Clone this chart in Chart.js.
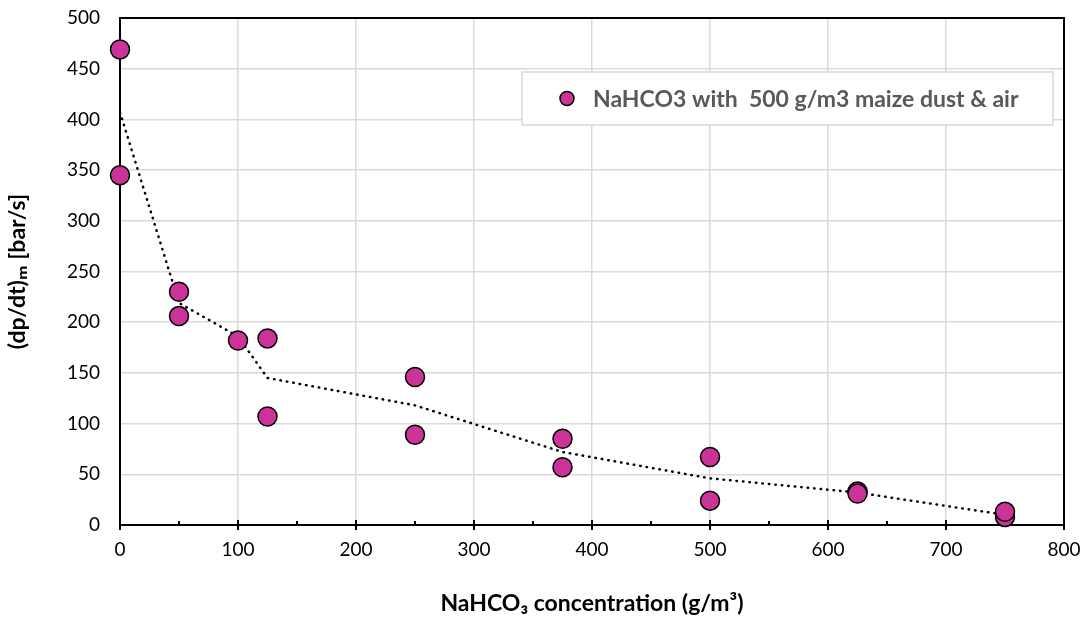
<!DOCTYPE html>
<html>
<head>
<meta charset="utf-8">
<script src="https://cdn.jsdelivr.net/npm/chart.js@4"></script>
<style>
  html, body { margin: 0; padding: 0; background: #fff; }
  #wrap { width: 1088px; height: 621px; }
</style>
</head>
<body>
<div id="wrap"><canvas id="chart" width="1088" height="621"></canvas></div>
<script>
// measured points
const concentration = [0, 0, 50, 50, 100, 125, 125, 250, 250, 375, 375, 500, 500, 625, 625, 750, 750];
const rate = [469, 345, 230, 206, 182, 184, 107, 146, 89, 85, 57, 67, 24, 33, 31, 8, 13];

// dotted trend line
const trendX = [0, 50, 100, 125, 250, 375, 500, 625, 750];
const trendY = [407, 219, 186, 145, 118, 72, 46, 32, 10];

const seriesLabel = 'NaHCO3 with  500 g/m3 maize dust & air';
const pointColor = 'rgb(204, 51, 153)';
const fontFamily = 'Lato, "Open Sans", "DejaVu Sans", sans-serif';

// frame around the plot + tick marks on the x axis
const framePlugin = {
  id: 'frame',
  beforeDatasetsDraw(chart) {
    const { ctx, chartArea: a, scales } = chart;
    ctx.save();
    ctx.strokeStyle = '#000';
    ctx.lineWidth = 2;
    ctx.strokeRect(a.left, a.top, a.right - a.left, a.bottom - a.top);
    const x = scales.x;
    for (let v = 0; v <= 800; v += 50) {
      const px = x.getPixelForValue(v);
      ctx.beginPath();
      if (v % 100 === 0) {
        ctx.moveTo(px, a.bottom - 5);
        ctx.lineTo(px, a.bottom + 5);
      } else {
        ctx.moveTo(px, a.bottom - 4);
        ctx.lineTo(px, a.bottom);
      }
      ctx.stroke();
    }
    ctx.restore();
  }
};

// legend box drawn inside the plot
const legendPlugin = {
  id: 'insideLegend',
  afterDraw(chart) {
    const { ctx } = chart;
    const ds = chart.data.datasets[1];
    const left = 522, top = 72, w = 531, h = 53;
    ctx.save();
    ctx.fillStyle = '#fff';
    ctx.fillRect(left, top, w, h);
    ctx.strokeStyle = '#d9d9d9';
    ctx.lineWidth = 1.5;
    ctx.strokeRect(left, top, w, h);
    ctx.beginPath();
    ctx.arc(left + 45, top + h / 2, 7, 0, Math.PI * 2);
    ctx.fillStyle = ds.backgroundColor;
    ctx.fill();
    ctx.strokeStyle = '#000';
    ctx.lineWidth = 1.5;
    ctx.stroke();
    ctx.fillStyle = '#595959';
    ctx.font = 'bold 23px ' + fontFamily;
    ctx.textBaseline = 'middle';
    ctx.fillText(ds.label, left + 71, top + h / 2 + 1);
    ctx.restore();
  }
};

const ctx = document.getElementById('chart').getContext('2d');
const chart = new Chart(ctx, {
  type: 'scatter',
  data: {
    datasets: [
      {
        label: 'trend',
        type: 'line',
        data: trendX.map((x, i) => ({ x: x, y: trendY[i] })),
        borderColor: '#000',
        borderWidth: 2.5,
        borderDash: [0.5, 6],
        borderCapStyle: 'round',
        pointRadius: 0,
        fill: false,
        tension: 0,
        order: 2
      },
      {
        label: seriesLabel,
        data: concentration.map((x, i) => ({ x: x, y: rate[i] })),
        backgroundColor: pointColor,
        borderColor: '#000',
        borderWidth: 1.5,
        pointRadius: 9.5,
        clip: false,
        order: 1
      }
    ]
  },
  options: {
    responsive: false,
    animation: false,
    layout: { padding: { top: 18, right: 24, left: 0, bottom: 0 } },
    plugins: {
      legend: { display: false },
      tooltip: { enabled: false }
    },
    scales: {
      x: {
        type: 'linear',
        min: 0,
        max: 800,
        ticks: {
          stepSize: 100,
          color: '#000',
          padding: 13,
          font: { family: fontFamily, size: 19 }
        },
        grid: { color: '#d9d9d9', lineWidth: 1.5, drawTicks: false },
        border: { display: false },
        title: {
          display: true,
          text: 'NaHCO\u2083 concentration (g/m\u00b3)',
          color: '#000',
          font: { family: fontFamily, size: 23, weight: 'bold' },
          padding: { top: 12 }
        },
        afterFit(scale) {
          scale.height = 96;
          scale.paddingLeft = 0;
          scale.paddingRight = 0;
        }
      },
      y: {
        min: 0,
        max: 500,
        ticks: {
          stepSize: 50,
          color: '#000',
          padding: 20,
          font: { family: fontFamily, size: 19 }
        },
        grid: { color: '#d9d9d9', lineWidth: 1.5, drawTicks: false },
        border: { display: false },
        title: {
          display: true,
          text: '(dp/dt)\u2098 [bar/s]',
          color: '#000',
          font: { family: fontFamily, size: 23, weight: 'bold' },
          padding: { bottom: 4 }
        },
        afterFit(scale) {
          scale.width = 120;
          scale.paddingTop = 0;
          scale.paddingBottom = 0;
        }
      }
    }
  },
  plugins: [framePlugin, legendPlugin]
});
</script>
</body>
</html>
